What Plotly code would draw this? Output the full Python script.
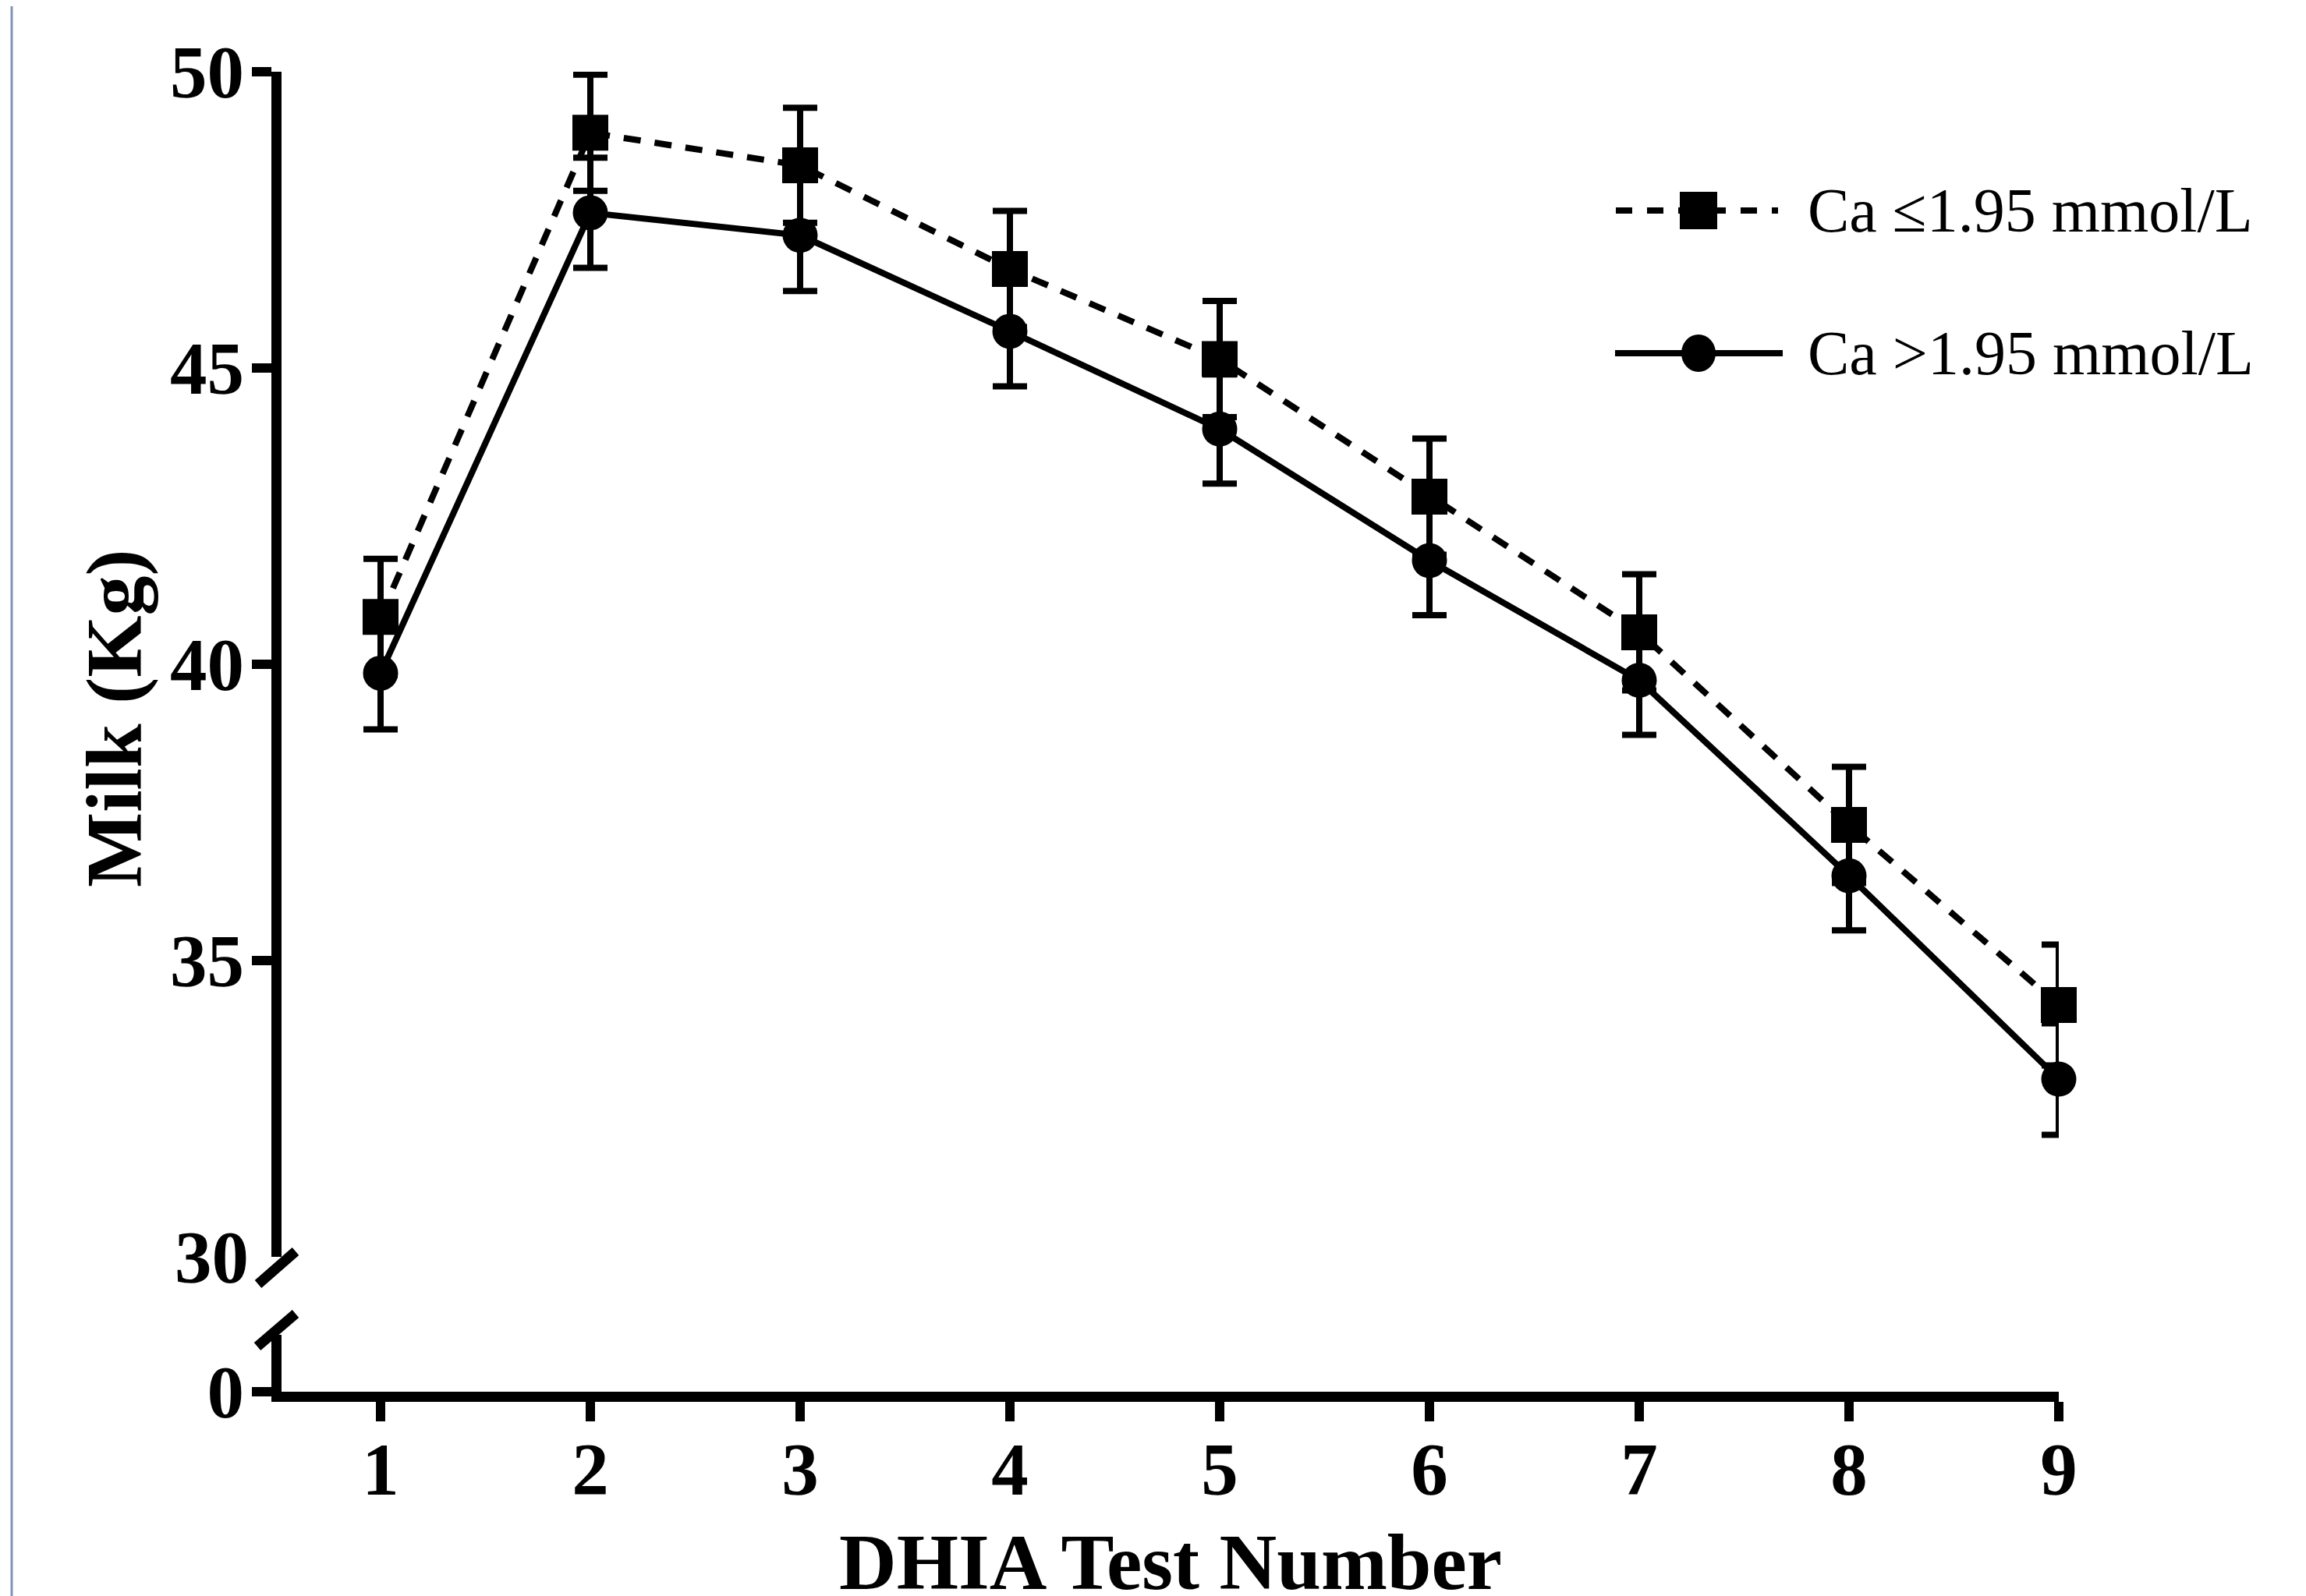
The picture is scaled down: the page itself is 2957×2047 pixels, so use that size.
import plotly.graph_objects as go

# ---------------- data ----------------
test_number = [1, 2, 3, 4, 5, 6, 7, 8, 9]
low_ca_label = "Ca ≤1.95 mmol/L"
high_ca_label = "Ca >1.95 mmol/L"
low_ca_milk = [40.80, 48.97, 48.42, 46.67, 45.15, 42.83, 40.54, 37.29, 34.25]
low_ca_err = [0.98, 0.98, 0.97, 0.98, 0.98, 0.98, 0.98, 0.98, 1.02]
high_ca_milk = [39.85, 47.62, 47.24, 45.62, 43.97, 41.75, 39.73, 36.43, 33.00]
high_ca_err = [0.95, 0.93, 0.94, 0.93, 0.92, 0.92, 0.92, 0.92, 0.94]
upper_ticks = [35, 40, 45, 50]
break_tick = [30]
lower_ticks = [0]

# ---------------- layout geometry ----------------
W, H = 2957, 2047
OFF = 8  # default page body margin in the written html
# target plot-area edges in page pixels
LEFT, RIGHT, TOP, BOTTOM = 361, 2640, 92, 1785
ML = LEFT - OFF
MR = W - (RIGHT - OFF)
MT = TOP - OFF
MB = H - (BOTTOM - OFF)
PW, PH = W - ML - MR, H - MT - MB

def px_x(p):
    return (p - LEFT) / PW

def px_y(p):
    return (BOTTOM - p) / PH

SERIF = "Liberation Serif, Times New Roman, serif"
BLACK = "#000000"

fig = go.Figure()

fig.add_trace(go.Scatter(
    x=test_number, y=high_ca_milk, name=high_ca_label, mode="lines+markers",
    line=dict(color=BLACK, width=8),
    marker=dict(symbol="circle", size=45, color=BLACK, line=dict(width=0)),
    error_y=dict(type="data", array=high_ca_err, visible=True,
                 color=BLACK, thickness=8, width=22),
    showlegend=False, xaxis="x", yaxis="y", cliponaxis=False,
))
fig.add_trace(go.Scatter(
    x=test_number, y=low_ca_milk, name=low_ca_label, mode="lines+markers",
    line=dict(color=BLACK, width=8, dash="22px,18px"),
    marker=dict(symbol="square", size=46, color=BLACK, line=dict(width=0)),
    error_y=dict(type="data", array=low_ca_err, visible=True,
                 color=BLACK, thickness=8, width=22),
    showlegend=False, xaxis="x", yaxis="y", cliponaxis=False,
))
# empty helper traces so the break label axis and lower axis are drawn
fig.add_trace(go.Scatter(x=[], y=[], showlegend=False, xaxis="x", yaxis="y3"))
fig.add_trace(go.Scatter(x=[], y=[], showlegend=False, xaxis="x", yaxis="y2"))

tickfont = dict(family=SERIF, size=95, color=BLACK, weight="bold")
upper_dom = [px_y(1612), 1.0]
lower_top = 1712
lower_dom = [0.0, px_y(lower_top)]
lower_range = [0, (BOTTOM - lower_top) / ((1612 - 92) / 20)]

fig.update_layout(
    width=W, height=H,
    margin=dict(l=ML, r=MR, t=MT, b=MB, pad=0, autoexpand=False),
    paper_bgcolor="white", plot_bgcolor="white",
    showlegend=False,
    xaxis=dict(
        range=[9 - PW / 269.0, 9], tickvals=test_number,
        ticks="outside", ticklen=25, tickwidth=12, tickcolor=BLACK,
        showline=True, linewidth=13, linecolor=BLACK,
        showgrid=False, zeroline=False, anchor="y2", automargin=False,
        tickfont=tickfont, ticklabelstandoff=-20,
    ),
    yaxis=dict(
        domain=upper_dom, range=[30, 50], tickvals=upper_ticks,
        ticks="outside", ticklen=25, tickwidth=12, tickcolor=BLACK,
        showline=True, linewidth=13, linecolor=BLACK, automargin=False,
        showgrid=False, zeroline=False, anchor="x", tickfont=tickfont,
        ticklabelstandoff=-9,
    ),
    yaxis3=dict(
        overlaying="y", range=[30, 50], tickvals=break_tick,
        ticks="outside", ticklen=25, tickwidth=12, tickcolor="rgba(0,0,0,0)",
        showline=False, showgrid=False, zeroline=False, anchor="x",
        automargin=False, tickfont=tickfont, ticklabelstandoff=-3,
    ),
    yaxis2=dict(
        domain=lower_dom, range=lower_range, tickvals=lower_ticks,
        ticks="outside", ticklen=25, tickwidth=12, tickcolor=BLACK,
        showline=True, linewidth=13, linecolor=BLACK, automargin=False,
        showgrid=False, zeroline=False, anchor="x", tickfont=tickfont,
        ticklabelstandoff=-9,
    ),
)

shapes = []
# axis break diagonals
shapes.append(dict(type="line", xref="paper", yref="paper",
                   x0=px_x(331), y0=px_y(1647), x1=px_x(379), y1=px_y(1605),
                   line=dict(color=BLACK, width=13)))
shapes.append(dict(type="line", xref="paper", yref="paper",
                   x0=px_x(330), y0=px_y(1727), x1=px_x(379), y1=px_y(1685),
                   line=dict(color=BLACK, width=13)))
# page border line on the left
shapes.append(dict(type="line", xref="paper", yref="paper",
                   x0=px_x(15), y0=px_y(H + 20), x1=px_x(15), y1=px_y(-20),
                   line=dict(color="#7f93b8", width=3)))
# custom legend samples
row1, row2 = 270, 453
shapes.append(dict(type="line", xref="paper", yref="paper",
                   x0=px_x(2072), y0=px_y(row1), x1=px_x(2280), y1=px_y(row1),
                   line=dict(color=BLACK, width=8, dash="21px,19px")))
shapes.append(dict(type="rect", xref="paper", yref="paper",
                   x0=px_x(2154), y0=px_y(row1 + 24), x1=px_x(2202), y1=px_y(row1 - 24),
                   fillcolor=BLACK, line=dict(width=0)))
shapes.append(dict(type="line", xref="paper", yref="paper",
                   x0=px_x(2071), y0=px_y(row2), x1=px_x(2286), y1=px_y(row2),
                   line=dict(color=BLACK, width=8)))
shapes.append(dict(type="circle", xref="paper", yref="paper",
                   x0=px_x(2156), y0=px_y(row2 + 24), x1=px_x(2200), y1=px_y(row2 - 24),
                   fillcolor=BLACK, line=dict(width=0)))
fig.update_layout(shapes=shapes)

legfont = dict(family=SERIF, size=80, color=BLACK)
titlefont = dict(family=SERIF, size=102, color=BLACK, weight="bold")
annotations = [
    dict(text=low_ca_label, xref="paper", yref="paper", x=px_x(2316), y=px_y(row1),
         xanchor="left", yanchor="middle", showarrow=False, font=legfont),
    dict(text=high_ca_label, xref="paper", yref="paper", x=px_x(2316), y=px_y(row2),
         xanchor="left", yanchor="middle", showarrow=False, font=legfont),
    dict(text="Milk (Kg)", xref="paper", yref="paper", x=px_x(147), y=px_y(922),
         xanchor="center", yanchor="middle", textangle=-90, showarrow=False,
         font=titlefont),
    dict(text="DHIA Test Number", xref="paper", yref="paper", x=0.5, y=px_y(2003),
         xanchor="center", yanchor="middle", showarrow=False, font=titlefont),
]
fig.update_layout(annotations=annotations)

fig.write_html("out.html")
